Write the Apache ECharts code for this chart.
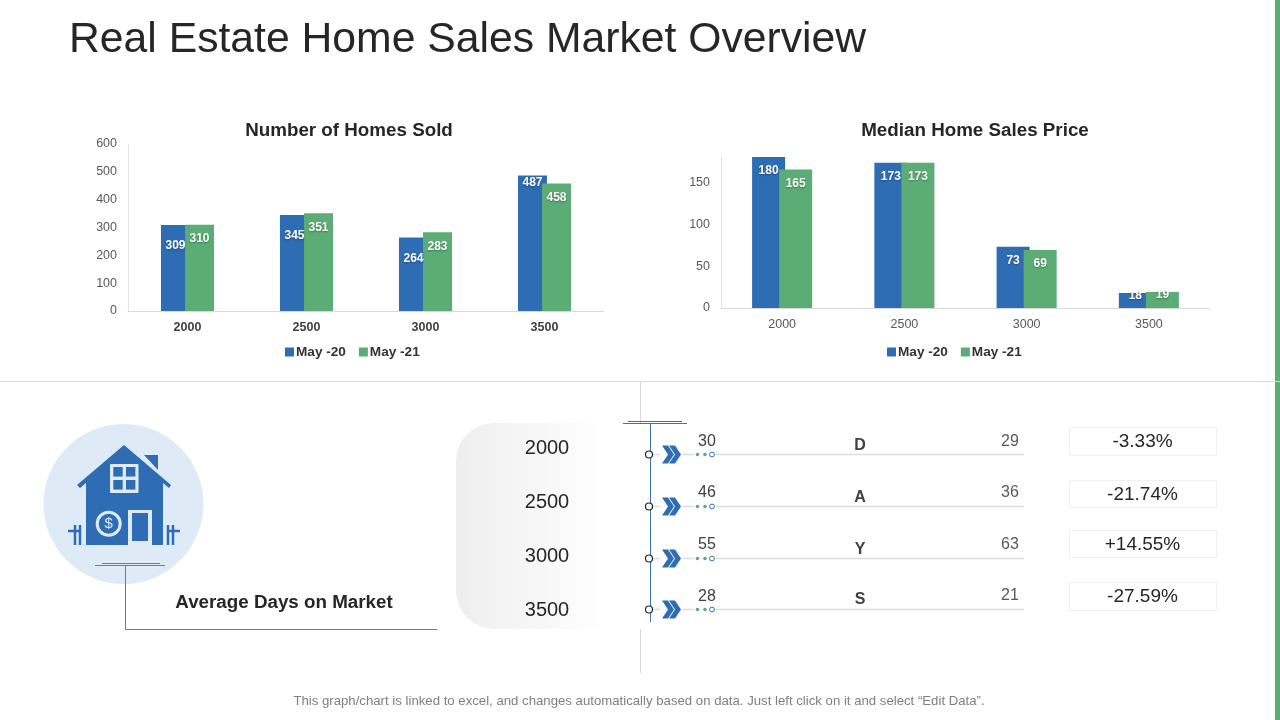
<!DOCTYPE html>
<html><head><meta charset="utf-8">
<style>html,body{margin:0;padding:0;background:#fff}#c{width:1280px;height:720px}</style>
<script src="https://cdn.jsdelivr.net/npm/echarts@6/dist/echarts.min.js"></script>
</head><body><div id="c"></div>
<script>
const categories = ['2000','2500','3000','3500'];
const seriesNames = ['May -20','May -21'];
const homesSold20 = [309,345,264,487];
const homesSold21 = [310,351,283,458];
const medianPrice20 = [180,173,73,18];
const medianPrice21 = [165,173,69,19];
const daysMay20 = [30,46,55,28];
const daysMay21 = [29,36,63,21];
const dayLetters = ['D','A','Y','S'];
const changeLabels = ['-3.33%','-21.74%','+14.55%','-27.59%'];

const BLUE='#2E6DB4', GREEN='#5BAD75', FONT='"Liberation Sans",Arial,sans-serif';
const chart = echarts.init(document.getElementById('c'),null,{renderer:'canvas'});

const labelBase = {show:true,position:'insideTop',color:'#fff',fontFamily:FONT,fontWeight:'bold',fontSize:12,
  textShadowColor:'rgba(0,0,0,.35)',textShadowBlur:2,textShadowOffsetY:1};
function bars(name,vals,color,gi,width,gap,dist,over){
  return {type:'bar',name,xAxisIndex:gi,yAxisIndex:gi,barWidth:width,barGap:gap,
    itemStyle:{color},label:Object.assign({},labelBase,{distance:dist}),
    data:vals.map((v,i)=> over && over[i]!==undefined ? {value:v,label:{distance:over[i]}} : v)};
}
function xAxis(gi,bold){return {type:'category',gridIndex:gi,data:categories,
  axisLine:{lineStyle:{color:'#d9d9d9'}},axisTick:{show:false},
  axisLabel:{color:bold?'#404040':'#595959',fontFamily:FONT,fontSize:12.5,fontWeight:bold?'bold':'normal',margin:10}};}
function yAxis(gi,max,interval){return {type:'value',gridIndex:gi,min:0,max,interval,
  splitLine:{show:false},axisTick:{show:false},axisLine:{show:true,lineStyle:{color:'#e4e4e4'}},
  axisLabel:{color:'#595959',fontFamily:FONT,fontSize:12.5,margin:11,padding:[3,0,0,0],showMaxLabel:max%interval===0}};}
function legend(left){return {left,top:345,padding:0,itemWidth:9,itemHeight:9,itemGap:13,icon:'rect',selectedMode:false,
  data:seriesNames,textStyle:{fontFamily:FONT,fontWeight:'bold',fontSize:13.6,color:'#333',padding:[0,0,0,-3]}};}

const g=[];
const line=(x1,y1,x2,y2,color,w)=>g.push({type:'line',shape:{x1,y1,x2,y2},style:{stroke:color,lineWidth:w||1}});
const text=(x,y,t,size,color,bold,align)=>g.push({type:'text',x,y:y+1,style:{text:t,fontFamily:FONT,fontSize:size,fontWeight:bold?'bold':'normal',fill:color,textAlign:align||'center',textVerticalAlign:'middle'}});
const rect=(x,y,width,height,fill,stroke,r)=>g.push({type:'rect',shape:{x,y,width,height,r:r||0},style:{fill:fill||'none',stroke:stroke||'none',lineWidth:1}});
const circle=(cx,cy,r,fill,stroke,w)=>g.push({type:'circle',shape:{cx,cy,r},style:{fill,stroke:stroke||'none',lineWidth:w||1}});
const poly=(points,fill)=>g.push({type:'polygon',shape:{points},style:{fill}});

// frame
text(69,39,'Real Estate Home Sales Market Overview',42.7,'#262626',false,'left');
text(349,130,'Number of Homes Sold',18.8,'#262626',true);
text(975,130,'Median Home Sales Price',18.8,'#262626',true);
rect(1275,0,5,720,GREEN);
line(0,381.5,1280,381.5,'#d9d9d9');
line(640.5,381,640.5,673,'#d9d9d9');
text(639,700,'This graph/chart is linked to excel, and changes automatically based on data. Just left click on it and select \u201CEdit Data\u201D.',13.2,'#7f7f7f');

// pill
g.push({type:'rect',shape:{x:456,y:423,width:190,height:206,r:[38,0,0,38]},style:{fill:new echarts.graphic.LinearGradient(0,0,1,0,[{offset:0,color:'#eeeeee'},{offset:.8,color:'#ffffff'},{offset:1,color:'#ffffff'}])}});

// house
const PALE='#DFEAF7';
circle(123.5,504,80,PALE);
poly([[124,445],[171,485],[169,488],[163,483],[163,545],[86,545],[86,483],[80,488],[77,485]],BLUE);
poly([[144,455],[158,455],[158,470]],BLUE);
rect(110,464,28.5,29,PALE,null,1);
[[113.3,467],[126,467],[113.3,480],[126,480]].forEach(p=>rect(p[0],p[1],9.4,9.6,BLUE));
circle(108.7,523.7,13,PALE);circle(108.7,523.7,10,BLUE);
text(108.7,523,'$',15,PALE);
rect(128,510,24,35,PALE);rect(132,513,16,28,BLUE);
[[75,525,75,545],[80,525,80,545],[168,525,168,545],[173,525,173,545],[68,531,81,531],[167,531,180,531]].forEach(l=>line(l[0],l[1],l[2],l[3],BLUE,2.5));

// connector
const TEAL='#3F8FB0';
line(102,563.5,160,563.5,TEAL);line(95,565.5,165,565.5,TEAL);
line(125.5,565,125.5,629,TEAL);line(125,629.5,437,629.5,TEAL);
text(284,602,'Average Days on Market',18.8,'#262626',true);

// timeline
const rowY=[454.5,506.5,558.5,609.5];
const labelY=[447.5,501.5,555.5,609.5];
const leftY=[441,492,544,596];
const rightY=[441,492,544,595];
const letterY=[445,497,549,599];
const boxes=[[427,28],[480,27],[530,27],[582,28]];
const NAVY='#3A74AE';
line(623,423.5,687,423.5,NAVY);line(628,421.5,682,421.5,NAVY);
line(650.5,423,650.5,622,NAVY);
categories.forEach((c,i)=>{
  const y=rowY[i];
  text(547,labelY[i],c,20,'#262626');
  line(652,y,1024,y,'#dcdcdc',1.3);
  circle(649,y,3.5,'#fff','#222',1.2);
  g.push({type:'rect',shape:{x:660,y:y-10,width:23,height:20},style:{fill:'#fff'}});
  g.push({type:'rect',shape:{x:694,y:y-4,width:22,height:8},style:{fill:'#fff'}});
  poly([[662,y-9],[668,y-9],[674,y],[668,y+9],[662,y+9],[668,y]],BLUE);
  poly([[669,y-9],[675,y-9],[681,y],[675,y+9],[669,y+9],[675,y]],BLUE);
  circle(697.5,y,1.8,GREEN);circle(705,y,1.8,GREEN);circle(712,y,2.4,'#fff',BLUE,1);
  text(707,leftY[i],String(daysMay20[i]),16,'#404040');
  text(860,letterY[i],dayLetters[i],16,'#404040',true);
  text(1010,rightY[i],String(daysMay21[i]),16,'#595959');
  rect(1069.5,boxes[i][0]+.5,147,boxes[i][1],'#fff','#f0f0f0');
  text(1142.5,boxes[i][0]+boxes[i][1]/2,changeLabels[i],19,'#262626');
});

chart.setOption({
  animation:false,
  grid:[{left:128,top:144,width:476,height:167},{left:721,top:157,width:489,height:151}],
  xAxis:[xAxis(0,true),xAxis(1,false)],
  yAxis:[yAxis(0,600,100),yAxis(1,180,50)],
  legend:[legend(285),legend(887)],
  series:[
    bars(seriesNames[0],homesSold20,BLUE,0,29,'-17%',15,{3:1}),
    bars(seriesNames[1],homesSold21,GREEN,0,29,'-17%',8),
    bars(seriesNames[0],medianPrice20,BLUE,1,33,'-18%',8,{3:-3}),
    bars(seriesNames[1],medianPrice21,GREEN,1,33,'-18%',8,{3:-3})
  ],
  graphic:{elements:g}
});
</script></body></html>
